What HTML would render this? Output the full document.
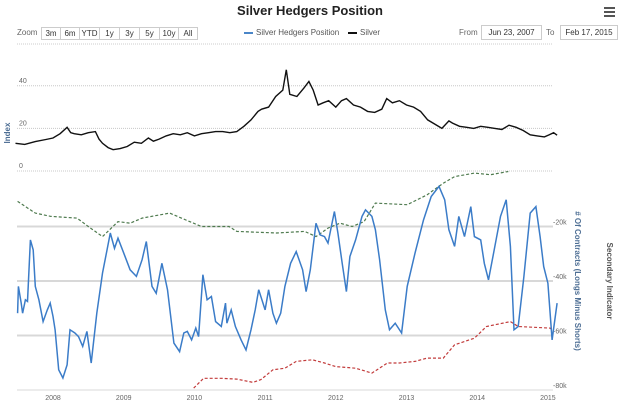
<!DOCTYPE html>
<html><head><meta charset="utf-8"><style>
body{margin:0;background:#fff;font-family:"Liberation Sans",sans-serif;}
#c{position:relative;width:620px;height:405px;overflow:hidden;}
.btn{position:absolute;top:27px;height:11px;border:1px solid #ccc;font-size:8px;line-height:11px;text-align:center;color:#333;background:#fff;}
.inp{position:absolute;top:25px;height:13px;border:1px solid #ccc;font-size:8px;line-height:13px;text-align:center;color:#333;}
</style></head><body>
<div id="c">
<svg id="s" width="620" height="405" style="position:absolute;left:0;top:0"></svg>
<div style="position:absolute;top:3px;left:0;width:620px;text-align:center;font-weight:bold;font-size:13px;color:#222;">Silver Hedgers Position</div>
<div style="position:absolute;left:604px;top:7px;width:11px;">
<div style="height:2px;background:#555;margin-bottom:2px"></div><div style="height:2px;background:#555;margin-bottom:2px"></div><div style="height:2px;background:#555"></div></div>
<div style="position:absolute;left:17px;top:28px;font-size:8px;color:#666;">Zoom</div>
<div class="btn" style="left:41px;width:18px">3m</div>
<div class="btn" style="left:60px;width:18px">6m</div>
<div class="btn" style="left:79px;width:19px">YTD</div>
<div class="btn" style="left:99px;width:19px">1y</div>
<div class="btn" style="left:119px;width:19px">3y</div>
<div class="btn" style="left:139px;width:19px">5y</div>
<div class="btn" style="left:159px;width:18px">10y</div>
<div class="btn" style="left:178px;width:18px">All</div>
<div style="position:absolute;left:244px;top:28px;font-size:8px;color:#555;"><span style="display:inline-block;width:9px;height:2px;background:#4a86c8;vertical-align:middle;margin-right:3px"></span>Silver Hedgers Position</div>
<div style="position:absolute;left:348px;top:28px;font-size:8px;color:#555;"><span style="display:inline-block;width:9px;height:2px;background:#111;vertical-align:middle;margin-right:3px"></span>Silver</div>
<div style="position:absolute;left:459px;top:28px;font-size:8px;color:#666;">From</div>
<div class="inp" style="left:481px;width:59px">Jun 23, 2007</div>
<div style="position:absolute;left:546px;top:28px;font-size:8px;color:#666;">To</div>
<div class="inp" style="left:560px;width:56px">Feb 17, 2015</div>
</div>
<script>
const silverYears=[2007.47,2007.6,2007.75,2007.9,2008.0,2008.1,2008.2,2008.25,2008.3,2008.4,2008.5,2008.6,2008.65,2008.7,2008.78,2008.85,2008.95,2009.05,2009.15,2009.25,2009.35,2009.42,2009.5,2009.6,2009.7,2009.8,2009.9,2010.0,2010.1,2010.2,2010.3,2010.4,2010.5,2010.6,2010.7,2010.8,2010.9,2010.95,2011.05,2011.15,2011.25,2011.3,2011.35,2011.45,2011.55,2011.62,2011.68,2011.75,2011.82,2011.9,2012.0,2012.08,2012.15,2012.25,2012.35,2012.45,2012.55,2012.65,2012.72,2012.8,2012.9,2013.0,2013.1,2013.2,2013.3,2013.4,2013.5,2013.6,2013.65,2013.75,2013.85,2013.95,2014.05,2014.15,2014.25,2014.35,2014.45,2014.55,2014.65,2014.75,2014.85,2014.95,2015.02,2015.08,2015.13];
const silverValues=[13,12.5,13.8,14.8,15.5,17.5,20.5,18,17.5,17,18,18.5,15,13,11,10,10.5,11.5,13.5,13,15.5,14,15,16.5,17.5,17,18,16.5,17.5,18,18.5,18.5,18,18.5,21,24,28,29,30,35,38,47.5,36,35,39,42,38,31,32,33,30,33,34,31,30,28,27.5,29,34,32,33,31,30,28,24,22,20,23.5,22.5,21,20.5,20,21,20.5,20,19.5,21.5,20.5,19,17,16.5,16,17,18,16.8];
const hedgeYears=[2007.50,2007.51,2007.55,2007.57,2007.61,2007.64,2007.68,2007.72,2007.75,2007.80,2007.86,2007.92,2007.96,2008.00,2008.03,2008.08,2008.14,2008.20,2008.24,2008.31,2008.36,2008.42,2008.48,2008.54,2008.62,2008.70,2008.76,2008.81,2008.87,2008.92,2009.01,2009.09,2009.18,2009.26,2009.32,2009.40,2009.46,2009.54,2009.62,2009.71,2009.79,2009.85,2009.90,2009.96,2010.02,2010.06,2010.12,2010.18,2010.24,2010.30,2010.38,2010.44,2010.46,2010.52,2010.58,2010.66,2010.73,2010.80,2010.86,2010.91,2011.00,2011.05,2011.11,2011.16,2011.22,2011.28,2011.36,2011.44,2011.53,2011.58,2011.64,2011.72,2011.78,2011.84,2011.89,2011.98,2012.03,2012.09,2012.15,2012.20,2012.28,2012.37,2012.42,2012.51,2012.56,2012.62,2012.70,2012.76,2012.84,2012.93,2013.01,2013.12,2013.24,2013.35,2013.46,2013.54,2013.60,2013.68,2013.74,2013.82,2013.91,2013.96,2014.05,2014.10,2014.16,2014.24,2014.33,2014.41,2014.47,2014.52,2014.58,2014.66,2014.75,2014.83,2014.89,2014.94,2015.00,2015.06,2015.13];
const hedgeValues=[-51.8,-42.0,-48.1,-51.8,-46.9,-47.5,-24.9,-28.6,-42.0,-46.9,-54.9,-50.6,-48.1,-53.0,-57.9,-72.6,-75.6,-70.8,-57.9,-59.1,-60.4,-64.0,-58.5,-70.1,-51.8,-37.1,-29.2,-22.4,-28.0,-24.3,-30.4,-35.9,-38.3,-32.2,-25.5,-42.0,-44.5,-33.5,-43.2,-62.8,-65.9,-59.1,-58.5,-61.6,-57.3,-60.4,-37.7,-46.9,-45.7,-54.9,-56.7,-48.1,-55.5,-50.6,-56.7,-61.6,-65.3,-57.9,-50.6,-43.2,-50.6,-43.2,-51.8,-55.5,-51.8,-42.0,-33.5,-29.2,-35.9,-43.9,-35.9,-18.8,-23.1,-23.7,-26.1,-14.5,-22.4,-33.5,-43.9,-31.0,-24.9,-16.3,-13.9,-16.3,-21.2,-32.2,-50.6,-57.9,-55.5,-59.1,-42.0,-29.8,-17.6,-9.0,-5.3,-10.2,-21.2,-27.3,-16.3,-23.7,-12.7,-23.7,-24.9,-33.5,-39.6,-28.6,-16.3,-10.2,-27.3,-57.9,-56.7,-38.3,-15.1,-12.7,-23.7,-34.7,-40.8,-61.6,-48.1];
const greenYears=[2007.50,2007.75,2007.97,2008.34,2008.53,2008.70,2008.92,2009.09,2009.26,2009.65,2009.88,2010.10,2010.49,2010.60,2011.16,2011.56,2011.72,2011.89,2012.06,2012.23,2012.40,2012.56,2013.01,2013.29,2013.52,2013.68,2013.96,2014.19,2014.44];
const greenValues=[-10.8,-15.1,-16.3,-16.9,-20.6,-23.7,-18.2,-18.8,-16.9,-15.1,-17.6,-20,-20,-21.8,-22.4,-21.8,-23.7,-20.6,-18.8,-20,-18.2,-11.4,-12,-8.4,-4.1,-1.7,-0.4,-1.0,0.2];
const redYears=[2009.99,2010.13,2010.38,2010.60,2010.83,2010.94,2011.11,2011.28,2011.44,2011.67,2011.84,2012.00,2012.28,2012.51,2012.73,2012.90,2013.12,2013.29,2013.52,2013.68,2013.96,2014.13,2014.47,2014.58,2015.03,2015.08];
const redValues=[-79.3,-75.7,-75.7,-76.0,-77.2,-76.2,-72.6,-72.0,-69.5,-68.9,-70.1,-71.4,-72.0,-73.8,-70.1,-70.1,-69.5,-68.3,-68.3,-63.4,-61.0,-56.7,-54.9,-56.7,-57.3,-58.5];
const yearTicks=[2008,2009,2010,2011,2012,2013,2014,2015];
const leftTicks=[0,20,40];
const rightTicks=[-20,-40,-60,-80];

const NS="http://www.w3.org/2000/svg";
const svg=document.getElementById('s');
const L=17,R=553;
const xS=y=>53+(y-2008)*70.7;
const yTop=v=>171-v*2.13;
const yBot=k=>172-k*2.725;
function mk(t,a){const e=document.createElementNS(NS,t);for(const k in a)e.setAttribute(k,a[k]);svg.appendChild(e);return e;}
let e=mk('line',{x1:L,x2:R,y1:44,y2:44,stroke:'#ccc','stroke-dasharray':'1,1'});


leftTicks.forEach(v=>{
 let g=mk('line',{x1:L,x2:R,y1:yTop(v),y2:yTop(v),stroke:'#c8c8c8','stroke-dasharray':'1,1'});
 
 
 let t=mk('text',{x:19,y:yTop(v)-3,'font-size':7,fill:'#666'});t.textContent=v;
 
 
});
rightTicks.forEach(k=>{
 let g=mk('line',{x1:L,x2:R,y1:yBot(k),y2:yBot(k),stroke:'#d8d8d8','stroke-width':k==-80?1:2});
 
 
 let t=mk('text',{x:553,y:yBot(k)-2,'font-size':7,fill:'#666'});t.textContent=k+'k';
 
 
});
yearTicks.forEach(y=>{
 let t=mk('text',{x:xS(y),y:400,'font-size':7,fill:'#666','text-anchor':'middle'});t.textContent=y;
 
 
});
function pts(xs,vs,f){return xs.map((x,i)=>xS(x).toFixed(1)+','+f(vs[i]).toFixed(1)).join(' ');}
const cp=mk('clipPath',{id:'cb'});const r=document.createElementNS(NS,'rect');
r.setAttribute('x',0);r.setAttribute('y',171);r.setAttribute('width',620);r.setAttribute('height',230);cp.appendChild(r);
let gl=mk('polyline',{points:pts(greenYears,greenValues,yBot),fill:'none',stroke:'#4e7a4e','stroke-width':1.2,'stroke-dasharray':'3,2','clip-path':'url(#cb)'});


let rl=mk('polyline',{points:pts(redYears,redValues,yBot),fill:'none',stroke:'#c23b3b','stroke-width':1.2,'stroke-dasharray':'3,2'});


let bl=mk('polyline',{points:pts(hedgeYears,hedgeValues,yBot),fill:'none',stroke:'#3b7cc8','stroke-width':1.5});


let sl=mk('polyline',{points:pts(silverYears,silverValues,yTop),fill:'none',stroke:'#111','stroke-width':1.4});


let a1=mk('text',{transform:'translate(10,133) rotate(-90)','font-size':8,fill:'#4d6e94','text-anchor':'middle','font-weight':'bold'});a1.textContent='Index';


let a2=mk('text',{transform:'translate(575,281) rotate(90)','font-size':8,fill:'#4d6e94','text-anchor':'middle','font-weight':'bold'});a2.textContent='# Of Contracts (Longs Minus Shorts)';


let a3=mk('text',{transform:'translate(607,281) rotate(90)','font-size':8,fill:'#555','text-anchor':'middle','font-weight':'bold'});a3.textContent='Secondary Indicator';


</script>
</body></html>
